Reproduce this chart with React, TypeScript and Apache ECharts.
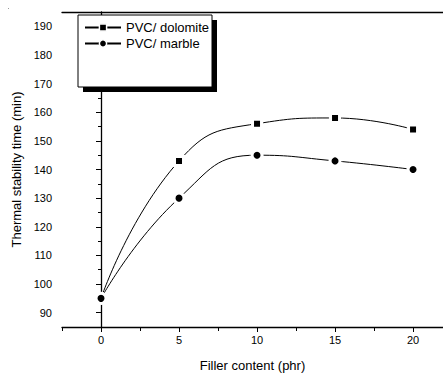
import React, { useEffect, useRef } from 'react';
import * as echarts from 'echarts';

const fillerContent = [0, 5, 10, 15, 20];
const dolomite = [95, 143, 156, 158, 154];
const marble = [95, 130, 145, 143, 140];
const xMajorTicks = [0, 5, 10, 15, 20];
const xMinorTicks = [-2.5, 2.5, 7.5, 12.5, 17.5];
const yMajorTicks = [90, 100, 110, 120, 130, 140, 150, 160, 170, 180, 190];
const yMinorTicks = [95, 105, 115, 125, 135, 145, 155, 165, 175, 185];
const seriesNames = ['PVC/ dolomite', 'PVC/ marble'];

const FONT = 'Liberation Sans, Arial, Helvetica, sans-serif';
const X_MIN = -2.5;
const X_MAX = 21.92;
const Y_MIN = 85;
const Y_MAX = 195;

export default function App() {
  const ref = useRef<HTMLDivElement>(null);
  useEffect(() => {
    document.body.style.margin = '0';
    if (!ref.current) return;
    const chart = echarts.init(ref.current, null, { renderer: 'svg' });
    const axisLine = { show: true, lineStyle: { color: '#000', width: 1.3 } };
    chart.setOption({
      animation: false,
      backgroundColor: '#fff',
      textStyle: { fontFamily: FONT },
      grid: { left: 62, top: 12, right: 0, bottom: 46 },
      graphic: [
        { type: 'rect', z: 1, shape: { x: 83, y: 20, width: 134, height: 72 }, style: { fill: '#000' } },
        { type: 'rect', z: 2, shape: { x: 78, y: 15, width: 134, height: 72 }, style: { fill: '#fff', stroke: '#000', lineWidth: 1 } },
        { type: 'rect', z: 2, shape: { x: 8, y: 8, width: 1, height: 1 }, style: { fill: '#999' } },
      ],
      legend: {
        orient: 'vertical',
        left: 84,
        top: 21,
        z: 10,
        padding: 0,
        itemWidth: 36,
        itemHeight: 9,
        itemGap: 3,
        data: seriesNames,
        textStyle: { fontSize: 13, color: '#000', fontFamily: FONT },
        itemStyle: { borderWidth: 1.5, borderColor: '#fff' },
      },
      xAxis: [
        {
          type: 'value', min: X_MIN, max: X_MAX, position: 'bottom',
          axisLine,
          axisTick: { show: true, customValues: xMajorTicks, length: 5, lineStyle: { color: '#000', width: 1 } },
          axisLabel: { customValues: xMajorTicks, fontSize: 11, color: '#000', margin: 7, fontFamily: FONT },
          splitLine: { show: false },
          name: 'Filler content (phr)', nameLocation: 'middle', nameGap: 32,
          nameTextStyle: { fontSize: 13, color: '#000', fontFamily: FONT },
        },
        {
          type: 'value', min: X_MIN, max: X_MAX, position: 'bottom',
          axisLine: { show: false },
          axisTick: { show: true, customValues: xMinorTicks, length: 4, lineStyle: { color: '#000', width: 1 } },
          axisLabel: { show: false },
          splitLine: { show: false },
        },
        {
          type: 'value', min: X_MIN, max: X_MAX, position: 'top',
          axisLine,
          axisTick: { show: false },
          axisLabel: { show: false },
          splitLine: { show: false },
        },
      ],
      yAxis: [
        {
          type: 'value', min: Y_MIN, max: Y_MAX, position: 'left',
          axisLine,
          axisTick: { show: true, customValues: yMajorTicks, length: 5, lineStyle: { color: '#000', width: 1 } },
          axisLabel: { customValues: yMajorTicks, fontSize: 11, color: '#000', margin: 10, fontFamily: FONT },
          splitLine: { show: false },
          name: 'Thermal stability time (min)', nameLocation: 'middle', nameGap: 36,
          nameTextStyle: { fontSize: 13, color: '#000', fontFamily: FONT },
        },
        {
          type: 'value', min: Y_MIN, max: Y_MAX, position: 'left',
          axisLine: { show: false },
          axisTick: { show: true, customValues: yMinorTicks, length: 3, lineStyle: { color: '#000', width: 1 } },
          axisLabel: { show: false },
          splitLine: { show: false },
        },
      ],
      series: [
        {
          name: seriesNames[0],
          type: 'line',
          xAxisIndex: 0,
          yAxisIndex: 0,
          smooth: 0.5,
          symbol: 'rect',
          symbolSize: 9,
          data: fillerContent.map((x, i) => [x, dolomite[i]]),
          lineStyle: { color: '#000', width: 1 },
          itemStyle: { color: '#000', borderColor: '#fff', borderWidth: 3 },
          z: 3,
        },
        {
          name: seriesNames[1],
          type: 'line',
          xAxisIndex: 0,
          yAxisIndex: 0,
          smooth: 0.5,
          symbol: 'circle',
          symbolSize: 10,
          data: fillerContent.map((x, i) => [x, marble[i]]),
          lineStyle: { color: '#000', width: 1 },
          itemStyle: { color: '#000', borderColor: '#fff', borderWidth: 3 },
          z: 4,
        },
      ],
    });
    return () => chart.dispose();
  }, []);
  return <div ref={ref} style={{ width: 443, height: 377 }} />;
}
